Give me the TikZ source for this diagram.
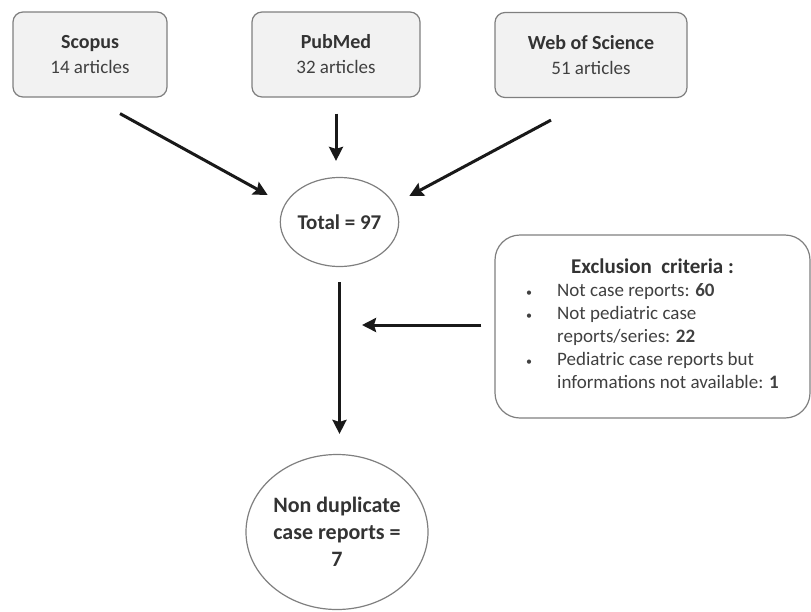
\documentclass[tikz,border=0pt]{standalone}
\usepackage{fontspec}
\setmainfont{Carlito}
\usetikzlibrary{arrows.meta,shapes.geometric}
\definecolor{boxgray}{HTML}{F2F2F2}
\definecolor{linegray}{HTML}{7F7F7F}
\definecolor{txtgray}{HTML}{404040}
\newcommand{\dotitem}{{\fontsize{12}{12}\selectfont•}}
\newcommand{\srctitle}[1]{{\color{black!80}\bfseries\fontsize{20}{25}\selectfont #1}}

\begin{document}
\begin{tikzpicture}[x=1pt,y=-1pt,
  src/.style={draw=linegray,fill=boxgray,line width=1.2pt,rounded corners=10pt,
              minimum height=85pt,align=center,text=txtgray,
              font=\fontsize{19}{25}\selectfont},
  oval/.style={ellipse,draw=linegray,line width=1.2pt,inner sep=0pt,align=center,
               text=black!80},
  arr/.style={-{Stealth[length=14pt,width=14pt,inset=2pt]},line width=3pt,black!90}]
  \useasboundingbox (0,0) rectangle (811,611);
  \node[src,minimum width=154pt] (scopus) at (90,54.5) {\srctitle{Scopus}\\14 articles};
  \node[src,minimum width=168pt] (pubmed) at (336,54.5) {\srctitle{PubMed}\\32 articles};
  \node[src,minimum width=192pt] (wos) at (591,55) {\srctitle{Web of Science}\\51 articles};
  \node[oval,minimum width=115pt,minimum height=89pt,
        font=\bfseries\fontsize{21}{24}\selectfont] (total) at (339.5,222) {Total = 97};
  \node[oval,minimum width=182pt,minimum height=155pt,
        font=\bfseries\fontsize{22}{27}\selectfont] (final) at (337,532)
    {Non duplicate\\case reports =\\7};
  \node[draw=linegray,line width=1.2pt,rounded corners=25pt,minimum width=315pt,
        minimum height=183pt,text=txtgray,font=\fontsize{19}{23}\selectfont]
    (excl) at (652.5,326.5)
    {\begin{tabular}{@{}p{31pt}@{}l@{}}
      \multicolumn{2}{c}{\color{black!80}\bfseries\fontsize{21}{23}\selectfont Exclusion\ \ criteria :}\\
      \dotitem & Not case reports: \textbf{60}\\
      \dotitem & Not pediatric case\\
        & reports/series: \textbf{22}\\
      \dotitem & Pediatric case reports but\\
        & informations not available: \textbf{1}
     \end{tabular}};
  \coordinate (join) at (362,325);
  % sources into total
  \draw[arr] ([xshift=30pt,yshift=-16pt]scopus.south) -- ([xshift=-12pt,yshift=27pt]total.west);
  \draw[arr,shorten <=16pt,shorten >=16pt] (pubmed.south) -- (pubmed.south |- total.north);
  \draw[arr] ([xshift=-40pt,yshift=-22pt]wos.south) -- ([xshift=10pt,yshift=26pt]total.east);
  % total down to final, exclusions
  \draw[arr,shorten <=15pt,shorten >=20pt] (total.south) -- (total.south |- final.north);
  \draw[arr,shorten <=13pt] (excl.west |- join) -- (join);
\end{tikzpicture}
\end{document}
